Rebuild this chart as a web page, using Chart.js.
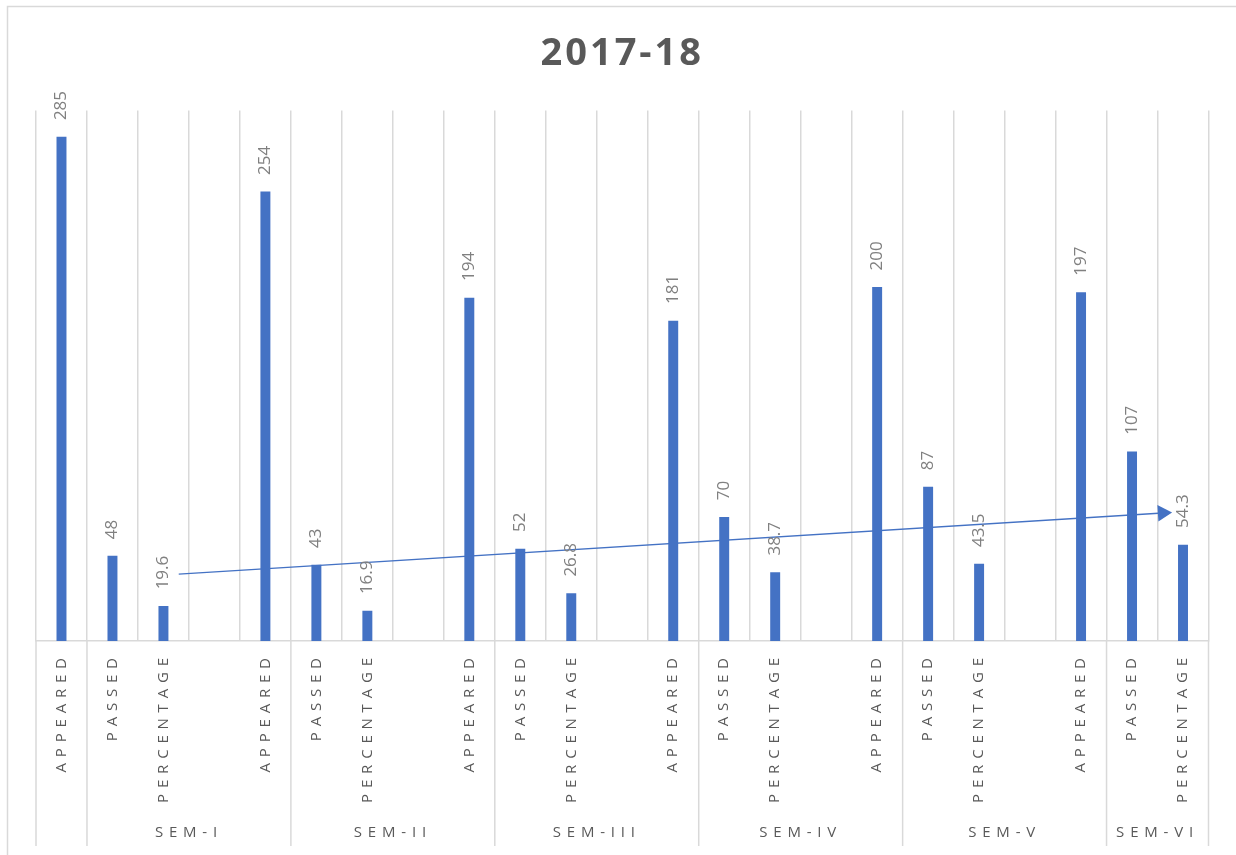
<!DOCTYPE html>
<html>
<head>
<meta charset="utf-8">
<script src="https://cdn.jsdelivr.net/npm/chart.js@4/dist/chart.umd.min.js"></script>
<style>
  html, body { margin: 0; padding: 0; background: #fff; }
  #wrap { width: 1236px; height: 855px; position: relative; }
</style>
</head>
<body>
<div id="wrap"><canvas id="chart"></canvas></div>
<script>
// categories du graphique (un creneau vide entre chaque semestre)
const categories = [
  'APPEARED', 'PASSED', 'PERCENTAGE', '',
  'APPEARED', 'PASSED', 'PERCENTAGE', '',
  'APPEARED', 'PASSED', 'PERCENTAGE', '',
  'APPEARED', 'PASSED', 'PERCENTAGE', '',
  'APPEARED', 'PASSED', 'PERCENTAGE', '',
  'APPEARED', 'PASSED', 'PERCENTAGE'
];
const values = [
  285, 48, 19.6, null,
  254, 43, 16.9, null,
  194, 52, 26.8, null,
  181, 70, 38.7, null,
  200, 87, 43.5, null,
  197, 107, 54.3
];
// second niveau de l'axe
const groupLabels = ['SEM-I', 'SEM-II', 'SEM-III', 'SEM-IV', 'SEM-V', 'SEM-VI'];
const groupEdges = [1, 5, 9, 13, 17, 21, 23];
// fleche de tendance (position en creneaux, valeur)
const arrowX = [2.3, 21.6];
const arrowY = [37.8, 72.4];

const FONT = '"Open Sans", "Liberation Sans", sans-serif';
const BLUE = '#4472C4';
const GRID = '#d9d9d9';

// bord gauche du creneau b sur l'axe des categories
function edge(xs, b) {
  return xs.left + b * xs.width / categories.length;
}

// cadre, titre espace, etiquettes
const decor = {
  id: 'decor',
  beforeDraw(chart) {
    const ctx = chart.ctx;
    ctx.save();
    ctx.strokeStyle = GRID;
    ctx.lineWidth = 1.5;
    ctx.strokeRect(7.5, 6.5, 1400, 1000);
    ctx.restore();
    ctx.letterSpacing = '3px';
  },
  afterDatasetsDraw(chart) {
    const ctx = chart.ctx;
    const meta = chart.getDatasetMeta(0);
    ctx.save();
    ctx.letterSpacing = '0px';
    ctx.fillStyle = '#808080';
    ctx.font = '17px ' + FONT;
    ctx.textAlign = 'left';
    ctx.textBaseline = 'middle';
    meta.data.forEach((bar, i) => {
      if (values[i] == null) return;
      ctx.save();
      ctx.translate(bar.x, bar.y - 17);
      ctx.rotate(-Math.PI / 2);
      ctx.fillText(String(values[i]), 0, 0);
      ctx.restore();
    });
    ctx.restore();
  },
  afterDraw(chart) {
    const ctx = chart.ctx;
    const area = chart.chartArea;
    const xs = chart.scales.x;
    ctx.save();
    // separateurs de groupes sous l'axe
    ctx.strokeStyle = GRID;
    ctx.lineWidth = 1.5;
    [0].concat(groupEdges).forEach(b => {
      const px = edge(xs, b);
      ctx.beginPath();
      ctx.moveTo(px, area.bottom);
      ctx.lineTo(px, 846);
      ctx.stroke();
    });
    // etiquettes niveau 1
    ctx.letterSpacing = '5.8px';
    ctx.fillStyle = '#595959';
    ctx.font = '15px ' + FONT;
    ctx.textAlign = 'right';
    ctx.textBaseline = 'middle';
    categories.forEach((c, i) => {
      if (!c) return;
      ctx.save();
      ctx.translate(xs.getPixelForValue(i), area.bottom + 11.2);
      ctx.rotate(-Math.PI / 2);
      ctx.fillText(c, 0, 0);
      ctx.restore();
    });
    // etiquettes niveau 2
    ctx.textAlign = 'center';
    groupLabels.forEach((g, i) => {
      const mid = (edge(xs, groupEdges[i]) + edge(xs, groupEdges[i + 1])) / 2;
      ctx.fillText(g, mid, 833);
    });
    ctx.restore();
    ctx.letterSpacing = '0px';
  }
};

const ctx = document.getElementById('chart').getContext('2d');

const chart = new Chart(ctx, {
  type: 'bar',
  data: {
    labels: categories,
    datasets: [
      {
        label: 'values',
        data: values,
        xAxisID: 'x',
        backgroundColor: BLUE,
        barThickness: 9.3,
        grouped: false
      },
      {
        type: 'line',
        label: 'trend',
        xAxisID: 'xt',
        data: arrowX.map((x, i) => ({ x: x, y: arrowY[i] })),
        borderColor: BLUE,
        borderWidth: 1.3,
        fill: false,
        pointStyle: 'triangle',
        pointRadius: [0, 9.5],
        pointRotation: [0, 86.5],
        pointBackgroundColor: BLUE,
        pointBorderWidth: 0
      }
    ]
  },
  options: {
    responsive: true,
    maintainAspectRatio: false,
    animation: false,
    layout: { padding: { top: 0, left: 36, right: 27.5, bottom: 214 } },
    plugins: {
      legend: { display: false },
      tooltip: { enabled: false },
      title: {
        display: true,
        text: '2017-18',
        color: '#595959',
        font: { family: FONT, size: 38, weight: 'bold' },
        padding: { top: 31, bottom: 34 }
      }
    },
    scales: {
      x: {
        type: 'category',
        offset: true,
        ticks: { display: false },
        grid: { color: GRID, lineWidth: 1.5, drawTicks: false, offset: true },
        border: { color: GRID, width: 1.5 }
      },
      // axe lineaire invisible, aligne sur les creneaux
      xt: {
        type: 'linear',
        position: 'bottom',
        offset: false,
        min: -0.5,
        max: 22.5,
        ticks: { display: false },
        grid: { display: false, drawTicks: false, offset: false },
        border: { display: false }
      },
      y: {
        min: 0,
        max: 300,
        display: false
      }
    }
  },
  plugins: [decor]
});
</script>
</body>
</html>
